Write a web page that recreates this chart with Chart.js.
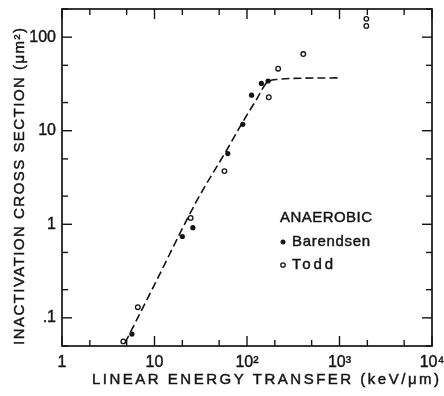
<!DOCTYPE html>
<html><head><meta charset="utf-8">
<script src="https://cdn.jsdelivr.net/npm/chart.js@4.4.1/dist/chart.umd.min.js"></script>
<style>html,body{margin:0;padding:0;background:#fff;overflow:hidden}canvas{display:block}</style>
</head><body>
<canvas id="c" width="444" height="396"></canvas>
<script>
// ---- data ----
const barendsenLET   = [5.7, 20, 26, 62, 90, 112, 143, 169];
const barendsenSigma = [0.067, 0.74, 0.92, 5.7, 11.7, 24, 32, 34];
const toddLET   = [4.6, 6.6, 24.6, 57, 172, 217, 406, 1950, 1950];
const toddSigma = [0.056, 0.13, 1.17, 3.7, 22.8, 46, 66, 132, 157];
const curveLET   = [4.8, 10, 28, 62, 90, 125, 168, 217, 300, 950];
const curveSigma = [0.054, 0.226, 1.71, 6.5, 12.4, 21.1, 33.4, 35.4, 36.2, 36.7];
// ---- axes ----
const xTicks = [1, 10, 100, 1000, 10000];
const xTickLabels = ['1', '10', '10²', '10³', '10⁴'];
const yTicks = [0.1, 1, 10, 100];
const yTickLabels = ['.1', '1', '10', '100'];
const minorSteps = [2, 5];
const xTitle = 'LINEAR ENERGY TRANSFER (keV/μm)';
const yTitle = 'INACTIVATION CROSS SECTION (μm²)';
const legendTitle = 'ANAEROBIC';
const seriesNames = ['Barendsen', 'Todd'];

const INK = '#141414';
const FONT = "'Liberation Sans', Arial, sans-serif";
Chart.defaults.font.family = FONT;
Chart.defaults.color = INK;

function fitText(ctx, text, left, cy, width) {
  ctx.letterSpacing = '0px';
  const w = ctx.measureText(text).width;
  const n = [...text].length;
  const ls = Math.max(0, (width - w) / (n - 1));
  ctx.letterSpacing = ls.toFixed(2) + 'px';
  ctx.textAlign = 'left';
  ctx.textBaseline = 'middle';
  ctx.fillText(text, left, cy);
  ctx.lineWidth = 0.45;
  ctx.strokeText(text, left, cy);
}

const framePlugin = {
  id: 'frame',
  beforeDraw(chart) {
    const ctx = chart.ctx;
    ctx.save(); ctx.fillStyle = '#fff'; ctx.fillRect(0, 0, chart.width, chart.height); ctx.restore();
  },
  afterDraw(chart) {
    const { ctx, chartArea: a, scales: { x, y } } = chart;
    ctx.save();
    ctx.strokeStyle = INK; ctx.fillStyle = INK;
    ctx.lineWidth = 1.7;
    ctx.strokeRect(a.left, a.top, a.right - a.left, a.bottom - a.top);
    ctx.lineWidth = 1.4;
    const tick = (x1, y1, x2, y2) => { ctx.beginPath(); ctx.moveTo(x1, y1); ctx.lineTo(x2, y2); ctx.stroke(); };
    // x ticks (bottom + top), inward
    xTicks.forEach((d, i) => {
      const px = x.getPixelForValue(d);
      tick(px, a.bottom, px, a.bottom - 10); tick(px, a.top, px, a.top + 10);
      if (i < xTicks.length - 1) minorSteps.forEach(m => {
        const p = x.getPixelForValue(d * m);
        tick(p, a.bottom, p, a.bottom - 6); tick(p, a.top, p, a.top + 6);
      });
    });
    // y ticks (left + right), inward
    const yDecades = [0.01, 0.1, 1, 10, 100];
    yDecades.forEach(d => {
      const vals = [d, d * minorSteps[0], d * minorSteps[1]];
      vals.forEach((v, k) => {
        if (v < y.min * 0.999 || v > y.max * 1.001) return;
        const py = y.getPixelForValue(v);
        const len = k === 0 ? 10 : 6;
        tick(a.left, py, a.left + len, py); tick(a.right, py, a.right - len, py);
      });
    });
    // axis titles
    ctx.font = `15px ${FONT}`;
    fitText(ctx, xTitle, 92, 380, 347);
    ctx.save();
    ctx.translate(20, 345); ctx.rotate(-Math.PI / 2);
    fitText(ctx, yTitle, 0, 0, 317);
    ctx.restore();
    // legend
    fitText(ctx, legendTitle, 280, 218, 92);
    fitText(ctx, seriesNames[0], 292, 242, 78);
    fitText(ctx, seriesNames[1], 292, 265, 41);
    ctx.beginPath(); ctx.arc(283, 242, 2.5, 0, Math.PI * 2); ctx.fill();
    ctx.beginPath(); ctx.lineWidth = 1.3; ctx.arc(283, 265, 2.2, 0, Math.PI * 2); ctx.stroke();
    ctx.restore();
  }
};

const toXY = (xs, ys) => xs.map((v, i) => ({ x: v, y: ys[i] }));

new Chart(document.getElementById('c'), {
  type: 'scatter',
  data: {
    datasets: [
      { label: 'fit', data: toXY(curveLET, curveSigma), showLine: true, borderColor: INK, borderWidth: 1.6,
        borderDash: [8, 4], pointRadius: 0, cubicInterpolationMode: 'monotone', fill: false },
      { label: seriesNames[0], data: toXY(barendsenLET, barendsenSigma), pointRadius: 2.6, pointStyle: 'circle',
        backgroundColor: INK, borderColor: INK, borderWidth: 0 },
      { label: seriesNames[1], data: toXY(toddLET, toddSigma), pointRadius: 2.3, pointStyle: 'circle',
        backgroundColor: '#fff', borderColor: INK, borderWidth: 1.3 }
    ]
  },
  options: {
    responsive: false, devicePixelRatio: 1, animation: false,
    layout: { padding: { left: 0, right: 12, top: 9, bottom: 0 } },
    plugins: { legend: { display: false }, tooltip: { enabled: false } },
    scales: {
      x: {
        type: 'logarithmic', min: 1, max: 10000,
        grid: { display: false, drawTicks: false }, border: { display: false },
        afterBuildTicks: s => { s.ticks = xTicks.map(v => ({ value: v })); },
        afterFit: s => { s.height = 50; s.paddingLeft = 0; s.paddingRight = 0; },
        ticks: { padding: 7, autoSkip: false, maxRotation: 0, color: INK, font: { size: 16 },
          textStrokeColor: INK, textStrokeWidth: 0.4,
          callback: v => xTickLabels[xTicks.indexOf(v)] }
      },
      y: {
        type: 'logarithmic', min: 0.05, max: 200,
        grid: { display: false, drawTicks: false }, border: { display: false },
        afterBuildTicks: s => { s.ticks = yTicks.map(v => ({ value: v })); },
        afterFit: s => { s.width = 62; s.paddingTop = 0; s.paddingBottom = 0; },
        ticks: { padding: 6, autoSkip: false, color: INK, font: { size: 16 },
          textStrokeColor: INK, textStrokeWidth: 0.4,
          callback: v => yTickLabels[yTicks.indexOf(v)] }
      }
    }
  },
  plugins: [framePlugin]
});
</script>
</body></html>
